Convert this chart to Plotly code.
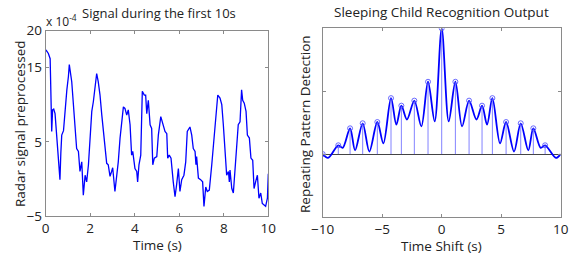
import plotly.graph_objects as go

# ---- Left panel: radar signal (units of 1e-4) ----
sig_t = [0.01, 0.12, 0.20, 0.24, 0.27, 0.31, 0.36, 0.42, 0.49, 0.57, 0.64, 0.68, 0.72, 0.80, 0.87, 0.95, 1.02, 1.06,
         1.17, 1.24, 1.32, 1.39, 1.47, 1.54, 1.62, 1.69, 1.77, 1.84, 1.92, 1.99, 2.07, 2.14, 2.22, 2.29,
         2.36, 2.44, 2.52, 2.60, 2.66, 2.74, 2.81, 2.89, 2.96, 3.01, 3.11, 3.19, 3.26, 3.34, 3.41,
         3.49, 3.56, 3.64, 3.71, 3.79, 3.86, 3.91, 4.01, 4.09, 4.13, 4.19, 4.27, 4.34, 4.43, 4.49,
         4.54, 4.61, 4.69, 4.76, 4.81, 4.88, 4.99, 5.06, 5.17, 5.28, 5.36, 5.44, 5.48, 5.55, 5.63,
         5.73, 5.81, 5.88, 5.96, 6.03, 6.11, 6.21, 6.29, 6.36, 6.48, 6.56, 6.63, 6.71, 6.75, 6.78,
         6.86, 6.96, 7.05, 7.11, 7.19, 7.26, 7.35, 7.46, 7.56, 7.65, 7.73, 7.83, 7.91, 7.98, 8.06,
         8.13, 8.21, 8.25, 8.28, 8.36, 8.43, 8.50, 8.58, 8.65, 8.73, 8.77, 8.80, 8.85, 8.92, 9.00,
         9.06, 9.15, 9.22, 9.30, 9.36, 9.43, 9.51, 9.58, 9.66, 9.73, 9.81, 9.88, 9.96, 10.0]
sig_v = [17.4, 16.9, 16.2, 11.3, 6.4, 9.3, 9.4, 8.8, 5.5, 1.9, -0.1, 3.5, 5.9, 6.5, 9.5, 12.0, 13.8, 15.4,
         13.1, 10.4, 7.3, 4.1, 3.7, 1.0, 2.3, -2.2, 0.5, -0.4, 1.9, 5.5, 9.1, 10.4, 12.2, 14.2,
         13.1, 11.3, 8.6, 6.0, 4.6, 2.1, 1.9, 0.35, 1.0, 1.5, -1.7, 0.5, 2.3, 5.5, 7.7,
         9.7, 9.5, 8.6, 9.3, 7.3, 3.2, 3.7, 1.4, 1.0, -0.4, 1.9, 3.2, 11.8, 11.3, 11.3,
         8.8, 10.6, 7.3, 6.8, 1.9, 2.8, 3.0, 5.9, 8.4, 7.3, 6.4, 6.1, 2.8, 3.2, 2.8,
         -0.4, -2.4, -0.8, 1.4, -1.7, -0.1, 0.5, 2.3, 6.4, 7.0, 5.9, 4.1, 3.7, 1.9, 3.0,
         0.1, -0.1, -0.4, -3.7, -1.1, -1.7, -1.5, 1.9, 5.5, 9.1, 11.3, 10.9, 10.0, 7.3, 3.7,
         0.5, 1.0, -0.4, 1.2, -1.3, -1.9, 1.4, 3.7, 7.3, 7.7, 10.9, 12.0, 10.6, 10.2, 9.1,
         5.9, 5.5, 2.8, 2.5, -1.3, -0.4, 0.5, -2.6, -1.9, -3.3, -3.5, -3.7, -2.6, 0.7]
left_yticks = [-5, 5, 15, 20]
left_xticks = [0, 2, 4, 6, 8, 10]

# ---- Right panel: repeating pattern detection ----
curve_x = [-10.0, -9.55, -8.69, -8.32, -7.70, -7.28, -6.64, -6.08, -5.41, -4.90, -4.26, -3.81, -3.39, -2.92,
           -2.30, -1.71, -1.15, -0.59, 0.0, 0.59, 1.15, 1.71, 2.30, 2.92, 3.39, 3.81, 4.26, 4.90,
           5.41, 6.08, 6.64, 7.28, 7.70, 8.32, 8.69, 9.6, 10.0]
curve_y = [0.0, -0.06, 0.14, 0.10, 0.41, 0.06, 0.49, 0.04, 0.51, 0.17, 0.89, 0.47, 0.77, 0.55,
           0.85, 0.44, 1.15, 0.52, 2.0, 0.52, 1.15, 0.44, 0.85, 0.55, 0.77, 0.47, 0.89, 0.17,
           0.51, 0.04, 0.49, 0.06, 0.41, 0.10, 0.14, -0.06, 0.0]
peak_x = [-10.0, -8.69, -7.70, -6.64, -5.41, -4.26, -3.39, -2.30, -1.15, 0.0,
          1.15, 2.30, 3.39, 4.26, 5.41, 6.64, 7.70, 8.69]
peak_y = [0.0, 0.14, 0.41, 0.49, 0.51, 0.89, 0.77, 0.85, 1.15, 2.0,
          1.15, 0.85, 0.77, 0.89, 0.51, 0.49, 0.41, 0.14]
right_xticks = [-10, -5, 0, 5, 10]
right_yticks = [-1, 0, 1, 2]

FONT = "Open Sans"
BLUE = "#0000FF"
AX = "#8a8a8a"
W, H = 573, 256

fig = go.Figure()
fig.add_trace(go.Scatter(x=sig_t, y=sig_v, mode="lines", line=dict(color=BLUE, width=1.3),
                         xaxis="x", yaxis="y", showlegend=False))
fig.add_trace(go.Scatter(x=curve_x, y=curve_y, mode="lines",
                         line=dict(color=BLUE, width=1.8, shape="spline", smoothing=0.9),
                         xaxis="x2", yaxis="y2", showlegend=False))
fig.add_trace(go.Scatter(x=peak_x, y=peak_y, mode="markers",
                         marker=dict(symbol="circle-open", size=5, color="rgba(70,70,255,0.8)", line=dict(width=1)),
                         error_y=dict(type="data", symmetric=False, array=[0] * len(peak_y), arrayminus=peak_y,
                                      width=0, thickness=1, color="rgba(90,90,255,0.75)"),
                         xaxis="x2", yaxis="y2", showlegend=False))

axis_common = dict(showgrid=False, ticks="inside", ticklen=3, tickcolor=AX, linecolor=AX, linewidth=1,
                   mirror="ticks", showline=True, automargin=False,
                   tickfont=dict(family=FONT, size=13.5, color="#222"))


def px(p):
    return p / W


def py(p):
    return 1 - p / H


fig.update_layout(
    width=W, height=H, margin=dict(l=0, r=0, t=0, b=0, pad=0, autoexpand=False),
    paper_bgcolor="white", plot_bgcolor="white",
    font=dict(family=FONT, size=13, color="#222"),
    xaxis=dict(domain=[px(45.7), px(268.3)], range=[0, 10], tickvals=left_xticks, anchor="y",
               zeroline=False, **axis_common),
    yaxis=dict(domain=[py(216), py(30.5)], range=[-5, 20], tickvals=left_yticks, anchor="x",
               zeroline=False, **axis_common),
    xaxis2=dict(domain=[px(322.7), px(560.7)], range=[-10, 10], tickvals=right_xticks, anchor="y2",
                zeroline=False, **axis_common),
    yaxis2=dict(domain=[py(217), py(28.3)], range=[-1, 2], tickvals=right_yticks, showticklabels=False,
                anchor="x2", zeroline=True, zerolinecolor="#444", zerolinewidth=1, **axis_common),
)


def label(text, x, y, size=13, angle=0, xanchor="center"):
    fig.add_annotation(text=text, x=px(x), y=py(y), xref="paper", yref="paper", xanchor=xanchor,
                       yanchor="middle", textangle=angle, showarrow=False, borderpad=0,
                       font=dict(size=size))


label("Signal during the first 10s", 158.5, 13, size=13)
label("Sleeping Child Recognition Output", 441.5, 12, size=13.5)
label("x 10<sup>-4</sup>", 45, 21, size=12, xanchor="left")
label("Time (s)", 157, 245, size=13.5)
label("Time Shift (s)", 441.5, 246, size=13.5)
label("Radar signal preprocessed", 20, 124, size=13.5, angle=-90)
label("Repeating Pattern Detection", 305, 124, size=13.5, angle=-90)

fig.write_html("out.html", config={"displayModeBar": False},
               post_script="document.body.style.margin='0px';")
